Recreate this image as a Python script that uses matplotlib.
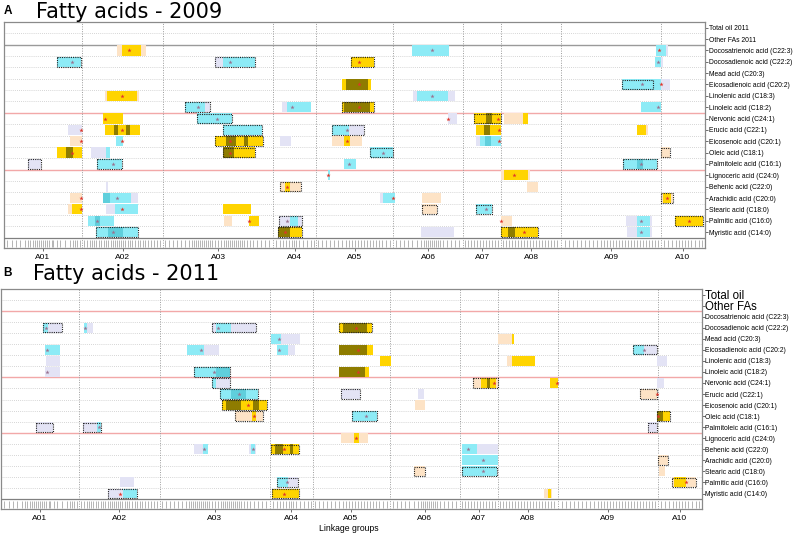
import matplotlib
matplotlib.use("Agg")
import matplotlib.pyplot as plt
from matplotlib import font_manager
from matplotlib.patches import Rectangle

# ------------------------------------------------------------
# data
# ------------------------------------------------------------
chroms = ["A01", "A02", "A03", "A04", "A05", "A06", "A07", "A08", "A09", "A10"]
chrom_len = [78, 81, 110, 43, 77, 70, 38, 60, 100, 44]

traits = ["Total oil", "Other FAs", "Docosatrienoic acid (C22:3)", "Docosadienoic acid (C22:2)",
          "Mead acid (C20:3)", "Eicosadienoic acid (C20:2)", "Linolenic acid (C18:3)",
          "Linoleic acid (C18:2)", "Nervonic acid (C24:1)", "Erucic acid (C22:1)",
          "Eicosenoic acid (C20:1)", "Oleic acid (C18:1)", "Palmitoleic acid (C16:1)",
          "Lignoceric acid (C24:0)", "Behenic acid (C22:0)", "Arachidic acid (C20:0)",
          "Stearic acid (C18:0)", "Palmitic acid (C16:0)", "Myristic acid (C14:0)"]

# marker positions (cM-ish, within each linkage group)
markers = {
    "A01": [3, 8, 12, 16, 21, 24, 26, 29, 31, 33, 35, 37, 39, 41, 43, 45, 48, 49, 53, 56, 61, 66, 69, 71, 73, 76],
    "A02": [2, 5, 8, 10, 12, 14, 17, 19, 22, 24, 26, 29, 31, 33, 35, 37, 39, 41, 43, 46, 48, 50, 53, 56, 58, 61, 63, 66, 69, 72, 75, 78],
    "A03": [2, 6, 10, 14, 18, 22, 26, 29, 31, 33, 35, 37, 39, 41, 43, 45, 47, 49, 52, 55, 58, 61, 63, 65, 67, 69, 71, 73,
            75, 77, 79, 81, 84, 87, 90, 94, 98, 102, 106],
    "A04": [3, 7, 10, 13, 16, 19, 21, 23, 26, 30, 34, 38, 41],
    "A05": [2, 6, 10, 14, 18, 22, 26, 30, 33, 36, 39, 42, 45, 48, 51, 54, 57, 60, 63, 66, 70, 74],
    "A06": [3, 7, 11, 15, 19, 24, 28, 31, 33, 35, 37, 39, 41, 43, 45, 47, 50, 54, 58, 62, 66],
    "A07": [2, 5, 8, 11, 14, 17, 20, 23, 26, 29, 32, 35],
    "A08": [2, 5, 8, 11, 14, 17, 20, 23, 26, 29, 32, 35, 38, 41, 44, 47, 50, 53, 56],
    "A09": [4, 8, 12, 16, 20, 24, 28, 32, 36, 40, 43, 46, 49, 52, 55, 58, 61, 64, 67, 70, 73, 76, 79, 82, 85, 88, 91, 94, 97],
    "A10": [3, 7, 11, 15, 18, 21, 24, 27, 30, 34, 38, 41],
}

# QTL rectangles: (row, start, end, colour key)
rects_2009 = [
    (2, 113, 142, "p"), (2, 118, 137, "g"), (2, 408, 445, "c"), (2, 652, 664, "l"), (2, 652, 662, "c"),
    (3, 53, 77, "c"), (3, 211, 251, "l"), (3, 219, 251, "c"), (3, 347, 370, "g"), (3, 651, 659, "l"), (3, 651, 657, "c"),
    (5, 338, 367, "g"), (5, 342, 364, "o"), (5, 618, 649, "c"), (5, 649, 666, "l"), (5, 649, 657, "c"),
    (6, 101, 135, "p"), (6, 103, 133, "g"), (6, 409, 451, "l"), (6, 413, 444, "c"),
    (7, 181, 206, "l"), (7, 181, 201, "c"), (7, 278, 307, "l"), (7, 283, 307, "c"), (7, 338, 370, "g"),
    (7, 340, 366, "o"), (7, 637, 657, "c"),
    (8, 99, 119, "g"), (8, 193, 228, "c"), (8, 444, 453, "l"), (8, 470, 497, "g"), (8, 482, 488, "o"),
    (8, 500, 524, "p"), (8, 519, 524, "g"),
    (9, 64, 78, "l"), (9, 101, 136, "g"), (9, 110, 114, "o"), (9, 122, 126, "o"), (9, 219, 258, "c"),
    (9, 328, 360, "l"), (9, 328, 345, "c"), (9, 472, 497, "g"), (9, 480, 486, "o"), (9, 633, 644, "p"), (9, 633, 642, "g"),
    (10, 66, 78, "p"), (10, 112, 119, "c"), (10, 211, 259, "g"), (10, 222, 232, "o"), (10, 240, 244, "o"),
    (10, 276, 287, "l"), (10, 328, 358, "p"), (10, 340, 346, "g"), (10, 472, 497, "l"), (10, 476, 497, "c"),
    (10, 481, 487, "d"),
    (11, 53, 78, "g"), (11, 62, 69, "o"), (11, 87, 106, "l"), (11, 102, 106, "c"), (11, 219, 251, "g"),
    (11, 219, 230, "o"), (11, 366, 389, "c"), (11, 657, 666, "p"),
    (12, 24, 37, "l"), (12, 93, 118, "c"), (12, 340, 352, "c"), (12, 619, 653, "c"), (12, 633, 639, "d"),
    (13, 324, 326, "c"), (13, 497, 526, "p"), (13, 500, 524, "g"),
    (14, 102, 104, "l"), (14, 276, 297, "p"), (14, 281, 286, "g"), (14, 523, 534, "p"),
    (15, 66, 78, "p"), (15, 99, 134, "l"), (15, 99, 127, "c"), (15, 99, 106, "d"), (15, 376, 391, "l"),
    (15, 379, 391, "c"), (15, 418, 437, "p"), (15, 657, 669, "p"), (15, 659, 667, "g"),
    (16, 64, 78, "p"), (16, 68, 78, "g"), (16, 102, 134, "l"), (16, 111, 134, "c"), (16, 219, 247, "g"),
    (16, 418, 433, "p"), (16, 472, 488, "c"),
    (17, 84, 110, "c"), (17, 91, 96, "d"), (17, 220, 228, "p"), (17, 245, 255, "g"), (17, 275, 298, "l"),
    (17, 286, 294, "c"), (17, 497, 508, "p"), (17, 622, 648, "l"), (17, 633, 646, "c"), (17, 671, 699, "g"),
    (18, 92, 134, "c"), (18, 104, 119, "d"), (18, 274, 298, "g"), (18, 274, 286, "o"), (18, 417, 450, "l"),
    (18, 497, 534, "g"), (18, 504, 511, "o"), (18, 623, 648, "l"), (18, 633, 646, "c"),
]
frames_2009 = [
    (3, 53, 77), (3, 211, 251), (3, 347, 370), (5, 618, 649), (7, 181, 206), (7, 338, 370),
    (8, 193, 228), (8, 470, 497), (9, 219, 258), (9, 328, 360), (10, 211, 259), (11, 219, 251),
    (11, 366, 389), (11, 657, 666), (12, 24, 37), (12, 93, 118), (12, 619, 653), (14, 276, 297),
    (15, 657, 669), (16, 418, 433), (16, 472, 488), (17, 275, 298), (17, 671, 699), (18, 92, 134),
    (18, 274, 298), (18, 497, 534),
]
peaks_2009 = [
    (2, 125, "r"), (2, 428, "b"), (2, 655, "r"), (3, 68, "b"), (3, 226, "b"), (3, 355, "r"), (3, 654, "b"),
    (5, 355, "r"), (5, 638, "b"), (5, 657, "r"), (6, 118, "r"), (6, 428, "b"), (7, 194, "b"), (7, 288, "b"),
    (7, 355, "r"), (7, 654, "b"), (8, 101, "r"), (8, 213, "b"), (8, 444, "r"), (8, 494, "r"),
    (9, 77, "r"), (9, 118, "r"), (9, 343, "b"), (9, 495, "r"), (10, 77, "r"), (10, 118, "r"), (10, 226, "r"),
    (10, 343, "r"), (10, 495, "r"), (11, 68, "r"), (11, 226, "r"), (11, 379, "b"), (12, 109, "b"),
    (12, 345, "b"), (12, 637, "b"), (13, 324, "r"), (13, 510, "r"), (14, 283, "r"), (15, 77, "r"),
    (15, 113, "b"), (15, 389, "r"), (15, 663, "r"), (16, 77, "r"), (16, 118, "r"), (16, 482, "b"),
    (17, 93, "b"), (17, 245, "r"), (17, 283, "b"), (17, 497, "r"), (17, 637, "b"), (17, 685, "r"),
    (18, 109, "b"), (18, 281, "r"), (18, 520, "r"), (18, 637, "b"),
]

rects_2011 = [
    (3, 42, 61, "l"), (3, 42, 47, "c"), (3, 83, 92, "l"), (3, 83, 86, "c"), (3, 211, 255, "l"), (3, 215, 230, "c"),
    (3, 338, 371, "g"), (3, 342, 366, "o"),
    (4, 270, 299, "l"), (4, 270, 280, "c"), (4, 497, 512, "p"), (4, 511, 513, "g"),
    (5, 44, 59, "c"), (5, 186, 218, "l"), (5, 186, 203, "c"), (5, 276, 294, "l"), (5, 276, 287, "c"),
    (5, 338, 372, "g"), (5, 338, 366, "o"), (5, 632, 656, "l"), (5, 632, 643, "c"),
    (6, 45, 59, "l"), (6, 379, 390, "g"), (6, 506, 511, "p"), (6, 511, 534, "g"), (6, 656, 666, "l"),
    (7, 44, 59, "l"), (7, 193, 229, "c"), (7, 215, 229, "d"), (7, 338, 368, "g"), (7, 338, 364, "o"),
    (8, 211, 229, "l"), (8, 211, 215, "c"), (8, 472, 497, "p"), (8, 480, 495, "g"), (8, 486, 489, "o"),
    (8, 549, 557, "g"), (8, 656, 663, "l"),
    (9, 219, 257, "c"), (9, 230, 245, "d"), (9, 340, 359, "l"), (9, 417, 423, "l"), (9, 639, 656, "p"),
    (10, 221, 266, "g"), (10, 225, 240, "o"), (10, 252, 258, "o"), (10, 414, 424, "p"),
    (11, 234, 262, "p"), (11, 251, 255, "g"), (11, 351, 376, "c"), (11, 656, 669, "g"), (11, 656, 662, "o"),
    (12, 35, 52, "l"), (12, 82, 100, "l"), (12, 96, 100, "c"), (12, 647, 656, "l"),
    (13, 340, 367, "p"), (13, 353, 358, "g"),
    (14, 193, 207, "l"), (14, 202, 207, "c"), (14, 248, 255, "l"), (14, 250, 254, "c"), (14, 270, 298, "g"),
    (14, 274, 282, "o"), (14, 289, 292, "o"), (14, 461, 497, "l"), (14, 461, 476, "c"),
    (15, 461, 497, "c"), (15, 657, 667, "p"),
    (16, 413, 424, "p"), (16, 461, 496, "c"), (16, 658, 664, "p"),
    (17, 119, 133, "l"), (17, 276, 297, "l"), (17, 276, 287, "c"), (17, 671, 695, "p"), (17, 673, 685, "g"),
    (18, 107, 136, "l"), (18, 122, 136, "c"), (18, 271, 298, "g"), (18, 543, 551, "p"), (18, 547, 550, "g"),
]
frames_2011 = [
    (3, 42, 61), (3, 211, 255), (3, 338, 371), (5, 632, 656), (7, 193, 229), (8, 211, 229), (8, 472, 497),
    (9, 219, 257), (9, 340, 359), (9, 639, 656), (10, 221, 266), (11, 234, 262), (11, 351, 376),
    (11, 656, 669), (12, 35, 52), (12, 82, 100), (12, 647, 656), (14, 270, 298), (15, 657, 667),
    (16, 413, 424), (16, 461, 496), (17, 276, 297), (17, 671, 695), (18, 107, 136), (18, 271, 298),
]
peaks_2011 = [
    (3, 45, "b"), (3, 84, "b"), (3, 217, "b"), (3, 355, "r"), (4, 278, "b"), (5, 46, "b"), (5, 200, "b"),
    (5, 278, "b"), (5, 357, "r"), (5, 643, "b"), (7, 46, "b"), (7, 213, "b"), (7, 357, "r"), (8, 493, "r"),
    (8, 556, "r"), (9, 238, "b"), (9, 656, "r"), (10, 247, "r"), (11, 253, "r"), (11, 365, "b"),
    (11, 657, "r"), (12, 98, "b"), (13, 355, "r"), (14, 203, "b"), (14, 252, "b"), (14, 283, "r"),
    (14, 467, "b"), (15, 482, "b"), (16, 482, "b"), (17, 286, "b"), (17, 685, "r"), (18, 119, "r"),
    (18, 283, "r"),
]

COLORS = {"g": "#FFD400", "o": "#8E7C00", "c": "#8DEBF6", "d": "#5FCFDC", "l": "#E3E3F5", "p": "#FDE3C6"}
PEAK_COLORS = {"r": "#E0352B", "b": "#9A7290"}


def has_font(name):
    try:
        font_manager.findfont(font_manager.FontProperties(family=name), fallback_to_default=False)
        return True
    except ValueError:
        return False


if has_font("Liberation Sans Narrow"):
    NARROW, NSIZE = "Liberation Sans Narrow", 6.2
else:
    NARROW, NSIZE = "Liberation Sans", 4.9


def draw_panel(ax, rects, frames, peaks, labels, sep_lines, big_first=False):
    starts = [sum(chrom_len[:i]) for i in range(len(chrom_len))]
    total = sum(chrom_len)
    ax.set_xlim(0, total)
    ax.set_ylim(19.4, -0.5)

    # row grid
    for b in range(18):
        ax.axhline(b + 0.5, color="#c8c8c8", lw=0.6, ls=(0, (1, 1.5)), zorder=0)
    for y, col in sep_lines:
        ax.axhline(y, color=col, lw=1.0, zorder=1)
    ax.axhline(18.5, color="#808080", lw=0.9, zorder=3)

    # linkage group boundaries
    for s in starts[1:]:
        ax.axvline(s, color="#9a9a9a", lw=0.7, ls=(0, (1, 1.5)), zorder=1)

    # QTL boxes
    for row, x0, x1, c in rects:
        ax.add_patch(Rectangle((x0, row - 0.45), x1 - x0, 0.9, facecolor=COLORS[c], lw=0, zorder=2))
    for row, x0, x1 in frames:
        ax.add_patch(Rectangle((x0, row - 0.42), x1 - x0, 0.84, fill=False, ec="#222222",
                               lw=0.8, ls=(0, (1, 1)), zorder=4))
    for row, x, k in peaks:
        ax.plot(x, row, marker="*", ms=3.2, color=PEAK_COLORS[k], mew=0, zorder=5)

    # marker rug
    for s, name in zip(starts, chroms):
        pos = [s + m for m in markers[name]]
        ax.vlines(pos, 18.7, 19.3, colors="#a8a8a8", lw=0.6, zorder=2)

    # x axis: linkage groups
    centers = [s + l / 2 for s, l in zip(starts, chrom_len)]
    ax.set_xticks(centers)
    ax.set_xticklabels(chroms, fontsize=6, family=NARROW)
    ax.tick_params(axis="x", length=2, width=0.6, color="#555555", pad=2)

    # y axis: traits on the right
    ax.yaxis.tick_right()
    ax.set_yticks(range(len(labels)))
    ax.set_yticklabels(labels, fontsize=NSIZE, family=NARROW)
    ax.tick_params(axis="y", length=2, width=0.6, color="#555555", pad=0.8)
    if big_first:
        for t in ax.get_yticklabels()[:2]:
            t.set_fontsize(8.3)
            t.set_family("Liberation Sans")

    for sp in ax.spines.values():
        sp.set_color("#8a8a8a")
        sp.set_linewidth(0.9)


W, H = 795, 535
fig = plt.figure(figsize=(W / 100, H / 100), dpi=100)

axA = fig.add_axes([4 / W, 1 - 248 / H, 701 / W, 226 / H])
axB = fig.add_axes([0.5 / W, 1 - 509 / H, 701 / W, 220 / H])

labels_A = ["Total oil 2011", "Other FAs 2011"] + traits[2:]
draw_panel(axA, rects_2009, frames_2009, peaks_2009, labels_A,
           [(1.5, "#9a9a9a"), (7.5, "#F2A8A8"), (12.5, "#F2A8A8")])
draw_panel(axB, rects_2011, frames_2011, peaks_2011, traits,
           [(1.5, "#F2A8A8"), (7.5, "#F2A8A8"), (12.5, "#F2A8A8")], big_first=True)

fig.text(4 / W, 1 - 14 / H, "A", fontsize=8.5, fontweight="bold", family="Liberation Sans")
fig.text(36.5 / W, 1 - 17.5 / H, "Fatty acids - 2009", fontsize=15, family="DejaVu Sans")
fig.text(3 / W, 1 - 276.5 / H, "B", fontsize=8.5, fontweight="bold", family="Liberation Sans")
fig.text(33 / W, 1 - 280.5 / H, "Fatty acids - 2011", fontsize=15, family="DejaVu Sans")
fig.text(349 / W, 1 - 531 / H, "Linkage groups", fontsize=6.2, family=NARROW, ha="center")

fig.savefig("out.png", dpi=100)
